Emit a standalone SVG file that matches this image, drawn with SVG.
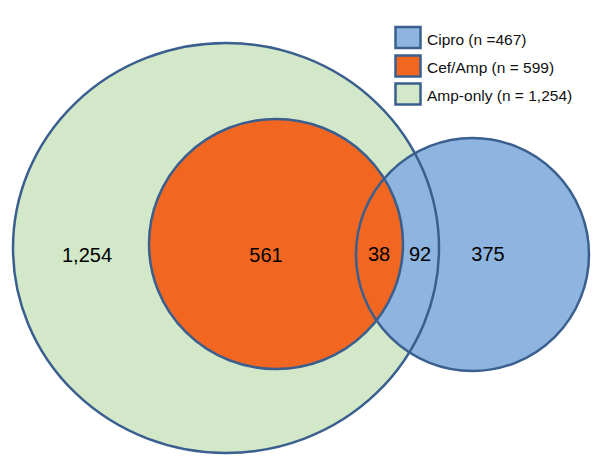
<svg xmlns="http://www.w3.org/2000/svg" width="600" height="463" viewBox="0 0 600 463">
<style>
.out{fill:none;stroke:#3A5F8F;stroke-width:2.5}
.num{font-family:"Liberation Sans",Arial,sans-serif;font-size:20px;fill:#000;text-anchor:middle}
.leg{font-family:"Liberation Sans",Arial,sans-serif;font-size:15.5px;fill:#111}
.box{stroke:#3A5F8F;stroke-width:2.5}
</style>
<rect width="600" height="463" fill="#fff"/>
<g id="amp-only">
<ellipse cx="226" cy="248" rx="213" ry="205" fill="#D2E8C8"/>
</g>
<g id="cipro">
<circle cx="472.5" cy="254.5" r="116.5" fill="#8EB4E0"/>
</g>
<g id="cef-amp">
<ellipse cx="276" cy="244" rx="127" ry="125" fill="#F16722"/>
</g>
<g id="outlines">
<ellipse class="out" cx="226" cy="248" rx="213" ry="205"/>
<ellipse class="out" cx="276" cy="244" rx="127" ry="125"/>
<circle class="out" cx="472.5" cy="254.5" r="116.5" stroke-width="3.2"/>
</g>
<g id="labels">
<text class="num" x="87" y="262">1,254</text>
<text class="num" x="266" y="262">561</text>
<text class="num" x="379" y="261">38</text>
<text class="num" x="420" y="261">92</text>
<text class="num" x="488" y="261">375</text>
</g>
<g id="legend">
<rect class="box" x="395.5" y="27" width="25" height="21" fill="#8EB4E0"/>
<text class="leg" x="427" y="44.5">Cipro (n =467)</text>
<rect class="box" x="395.5" y="55.5" width="25" height="21" fill="#F16722"/>
<text class="leg" x="427" y="72.5">Cef/Amp (n = 599)</text>
<rect class="box" x="395.5" y="83.5" width="25" height="21" fill="#D2E8C8"/>
<text class="leg" x="427" y="100.5">Amp-only (n = 1,254)</text>
</g>
</svg>
